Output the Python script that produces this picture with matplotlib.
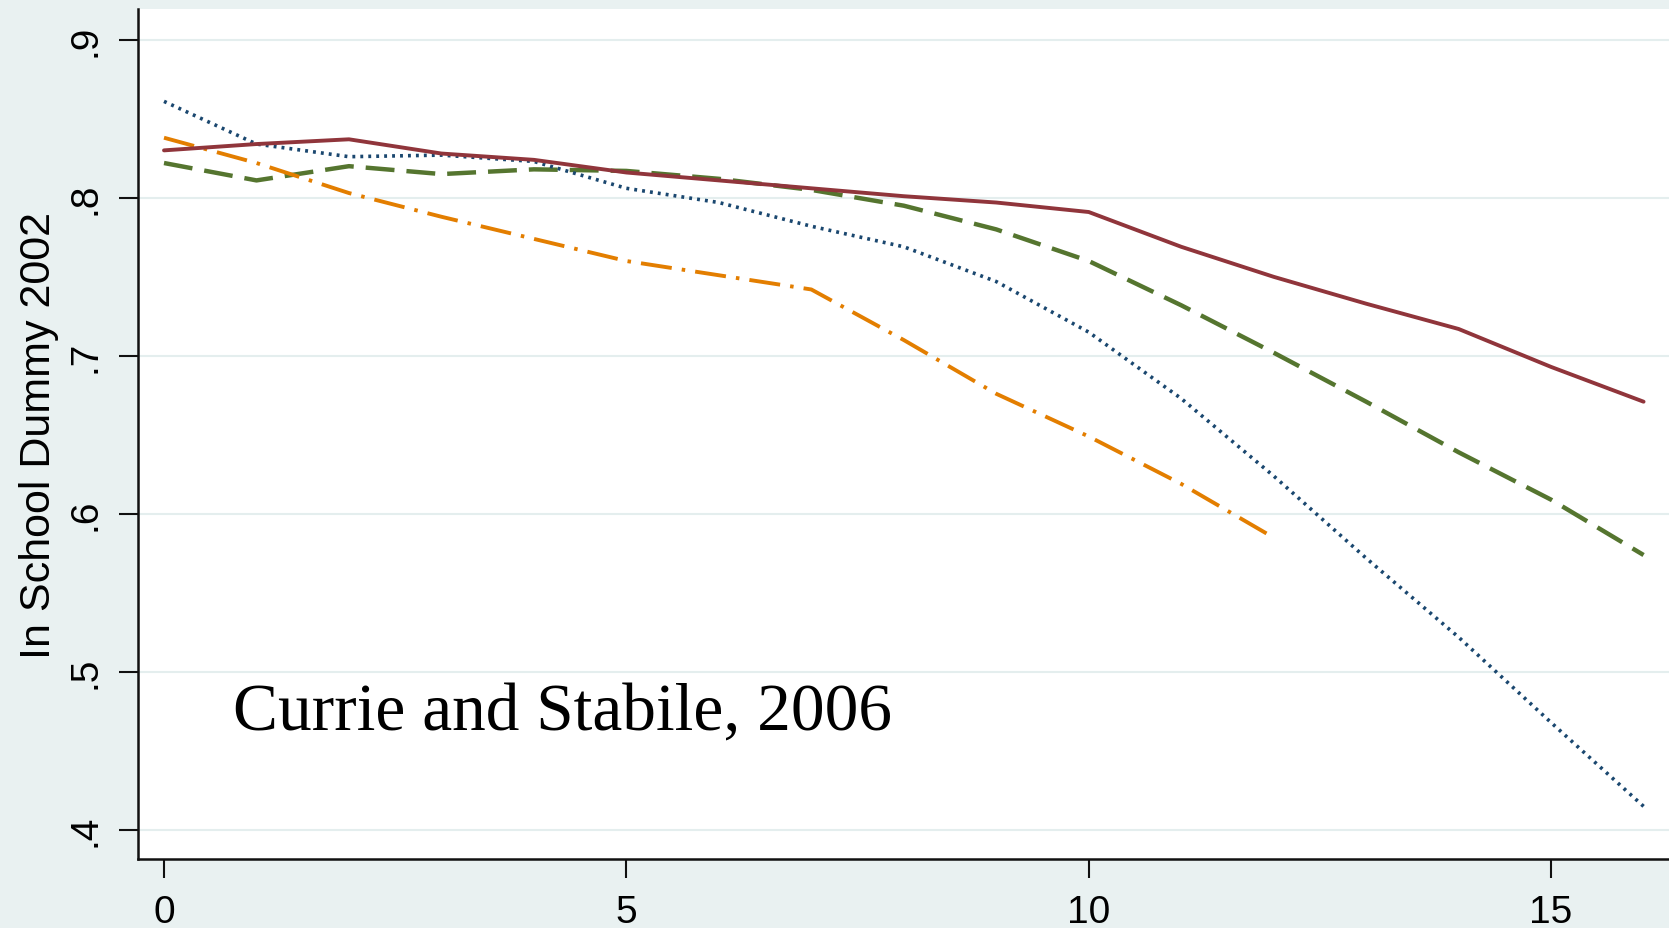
import matplotlib
matplotlib.use("Agg")
import matplotlib.pyplot as plt

# -------------------------------
# Data
# -------------------------------

years = list(range(17))

red_solid = [0.830, 0.834, 0.837, 0.828, 0.824, 0.816, 0.811, 0.806, 0.801, 0.797,
             0.791, 0.769, 0.750, 0.733, 0.717, 0.693, 0.671]
green_dash = [0.822, 0.811, 0.820, 0.815, 0.818, 0.817, 0.812, 0.805, 0.795, 0.780,
              0.760, 0.732, 0.702, 0.671, 0.639, 0.609, 0.574]
blue_dot = [0.861, 0.834, 0.826, 0.827, 0.823, 0.806, 0.797, 0.782, 0.769, 0.747,
            0.715, 0.673, 0.624, 0.572, 0.522, 0.468, 0.415]
orange_years = list(range(13))
orange_dashdot = [0.838, 0.822, 0.803, 0.788, 0.774, 0.760, 0.751, 0.742, 0.710, 0.676,
                  0.649, 0.619, 0.585]

x_ticks = [0, 5, 10, 15]
y_ticks = [0.4, 0.5, 0.6, 0.7, 0.8, 0.9]
y_tick_labels = ['.4', '.5', '.6', '.7', '.8', '.9']

# -------------------------------
# Figure
# -------------------------------

BG = '#e9f1f1'
fig = plt.figure(figsize=(16.69, 9.29), dpi=100, facecolor=BG)
ax = fig.add_axes([0.0827, 0.0743, 0.9173, 0.9147])
ax.set_facecolor('white')

ax.plot(years, red_solid, color='#90353b', lw=2.8, solid_capstyle='round', zorder=4)
ax.plot(years, green_dash, color='#55752f', lw=3.2, dashes=(6.5, 2.7), zorder=3)
ax.plot(years, blue_dot, color='#1a476f', lw=2.6, dashes=(0.8, 1.4), zorder=3)
ax.plot(orange_years, orange_dashdot, color='#e37e00', lw=2.8, dashes=(8, 2.6, 0.9, 2.6), zorder=3)

ax.text(0.75, 0.4645, 'Currie and Stabile, 2006', family='Liberation Serif',
        fontsize=48.5, color='black', ha='left', va='baseline')

ax.set_xlim(-0.281, 16.275)
ax.set_ylim(0.3817, 0.9193)
ax.set_xticks(x_ticks)
ax.set_xticklabels([str(t) for t in x_ticks], family='Liberation Sans', fontsize=28)
ax.set_yticks(y_ticks)
ax.set_yticklabels(y_tick_labels, family='Liberation Sans', fontsize=28,
                   rotation=90, va='center')

ax.grid(axis='y', color='#e4eeee', lw=1.5)
ax.set_axisbelow(True)

for side in ['top', 'right']:
    ax.spines[side].set_visible(False)
for side in ['left', 'bottom']:
    ax.spines[side].set_linewidth(1.8)
    ax.spines[side].set_color('#111111')

ax.tick_params(axis='both', length=14, width=1.5, color='#111111')
ax.tick_params(axis='x', pad=11)
ax.tick_params(axis='y', pad=11)

ax.set_ylabel('In School Dummy 2002', family='Liberation Sans', fontsize=31, labelpad=6)

fig.savefig('out.png', dpi=100, facecolor=BG)
